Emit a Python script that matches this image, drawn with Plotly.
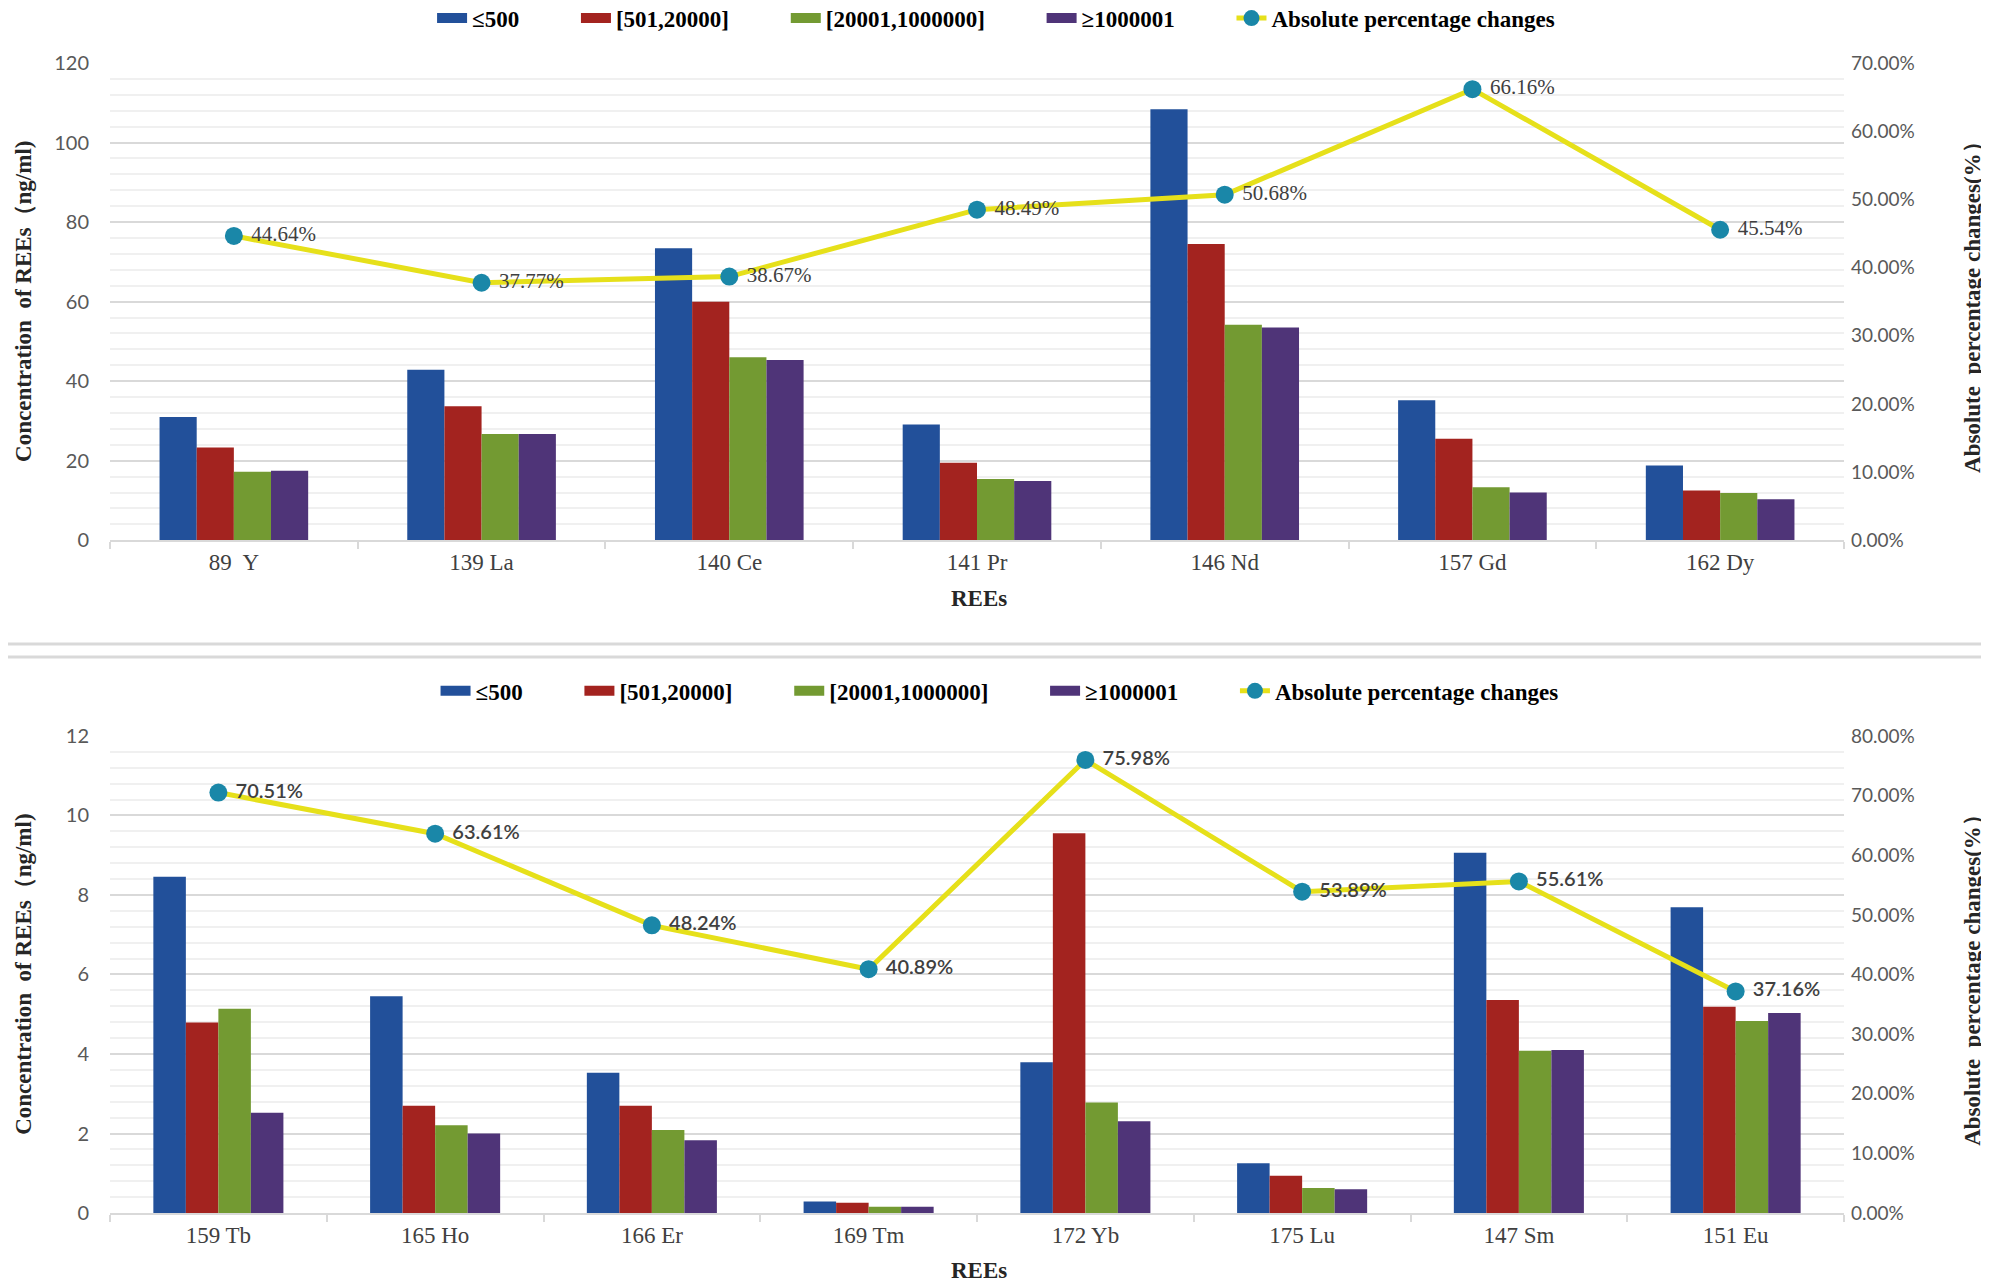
import plotly.graph_objects as go
from plotly.subplots import make_subplots

# top chart data
top_cats = ['89  Y', '139 La', '140 Ce', '141 Pr', '146 Nd', '157 Gd', '162 Dy']
top_le500 = [31.0, 42.9, 73.4, 29.1, 108.4, 35.2, 18.8]
top_501_20000 = [23.3, 33.7, 60.0, 19.5, 74.5, 25.5, 12.5]
top_20001_1000000 = [17.2, 26.7, 46.0, 15.4, 54.2, 13.3, 11.9]
top_ge1000001 = [17.5, 26.7, 45.3, 14.9, 53.5, 12.0, 10.3]
top_pct = [44.64, 37.77, 38.67, 48.49, 50.68, 66.16, 45.54]

# bottom chart data
bot_cats = ['159 Tb', '165 Ho', '166 Er', '169 Tm', '172 Yb', '175 Lu', '147 Sm', '151 Eu']
bot_le500 = [8.46, 5.45, 3.53, 0.29, 3.79, 1.25, 9.06, 7.69]
bot_501_20000 = [4.79, 2.70, 2.70, 0.26, 9.55, 0.94, 5.36, 5.19]
bot_20001_1000000 = [5.14, 2.21, 2.09, 0.16, 2.78, 0.63, 4.08, 4.83]
bot_ge1000001 = [2.52, 2.00, 1.83, 0.16, 2.31, 0.60, 4.10, 5.03]
bot_pct = [70.51, 63.61, 48.24, 40.89, 75.98, 53.89, 55.61, 37.16]

series_names = ['≤500', '[501,20000]', '[20001,1000000]', '≥1000001']
colors = ['#22509A', '#A3231F', '#739A32', '#4F3478']
line_name = 'Absolute percentage changes'

SERIF = 'Liberation Serif'
SANS = 'Lato'
PAD = '\u00a0' * 9  # extra room between legend entries

fig = make_subplots(rows=2, cols=1, specs=[[{'secondary_y': True}], [{'secondary_y': True}]])

panels = [
    (1, top_cats, [top_le500, top_501_20000, top_20001_1000000, top_ge1000001], top_pct,
     'legend', dict(family=SERIF, size=21, color='#404040')),
    (2, bot_cats, [bot_le500, bot_501_20000, bot_20001_1000000, bot_ge1000001], bot_pct,
     'legend2', dict(family=SANS, size=20, color='#404040', weight=600)),
]

for row, cats, groups, pct, leg, label_font in panels:
    for name, vals, col in zip(series_names, groups, colors):
        fig.add_trace(go.Bar(
            x=cats, y=vals, name=name, marker=dict(color=col, line=dict(width=0)),
            showlegend=False
        ), row=row, col=1, secondary_y=False)
        # legend swatch drawn as a thick short line (wide rectangle look)
        fig.add_trace(go.Scatter(
            x=[None], y=[None], mode='lines', name=name + PAD,
            line=dict(color=col, width=14), legend=leg, hoverinfo='skip'
        ), row=row, col=1, secondary_y=False)

    fig.add_trace(go.Scatter(
        x=cats, y=pct, name=line_name, mode='lines+markers+text',
        line=dict(color='#E6E01A', width=5),
        marker=dict(color='#1A87A8', size=18),
        text=[f' {p:.2f}%' for p in pct],
        textposition='middle right',
        textfont=label_font,
        legend=leg
    ), row=row, col=1, secondary_y=True)

legend_font = dict(family=SERIF, size=23, color='black', weight='bold')
# browser body margin of 8px is compensated in l/t
fig.update_layout(
    width=1989, height=1287,
    margin=dict(l=102, r=153, t=55, b=82, autoexpand=False),
    plot_bgcolor='white', paper_bgcolor='white',
    barmode='group', bargap=0.40, bargroupgap=0,
    showlegend=True,
    legend=dict(orientation='h', x=0.511, xanchor='center', y=1.039, yanchor='middle',
                font=legend_font, bgcolor='rgba(0,0,0,0)', tracegroupgap=0),
    legend2=dict(orientation='h', x=0.513, xanchor='center', y=0.454, yanchor='middle',
                 font=legend_font, bgcolor='rgba(0,0,0,0)', tracegroupgap=0),
)

# domains
fig.update_layout(
    xaxis=dict(domain=[0, 1], anchor='y'),
    yaxis=dict(domain=[0.585, 1.0]),
    yaxis2=dict(domain=[0.585, 1.0]),
    xaxis2=dict(domain=[0, 1], anchor='y3'),
    yaxis3=dict(domain=[0, 0.4148]),
    yaxis4=dict(domain=[0, 0.4148]),
)

fig.update_xaxes(
    showgrid=False, showline=True, linecolor='#D9D9D9', linewidth=2,
    ticks='outside', tickson='boundaries', ticklen=7, tickcolor='#D9D9D9', tickwidth=2,
    tickfont=dict(family=SERIF, size=23, color='#404040'), automargin=False,
)

tick_font = dict(family=SANS, size=20, color='#595959')
right_font = dict(family=SANS, size=19, color='#595959')
fig.update_yaxes(row=1, col=1, secondary_y=False, range=[0, 120], dtick=20,
                 gridcolor='#D9D9D9', gridwidth=2,
                 minor=dict(dtick=4, showgrid=True, gridcolor='#F0F0F0', gridwidth=2),
                 tickfont=tick_font, ticks='', ticklabelstandoff=20,
                 zeroline=False, automargin=False)
fig.update_yaxes(row=1, col=1, secondary_y=True, range=[0, 70], dtick=10,
                 tickformat='.2f', ticksuffix='%', showgrid=False, zeroline=False,
                 ticklabelstandoff=6, tickfont=right_font, automargin=False)
fig.update_yaxes(row=2, col=1, secondary_y=False, range=[0, 12], dtick=2,
                 gridcolor='#D9D9D9', gridwidth=2,
                 minor=dict(dtick=0.4, showgrid=True, gridcolor='#F0F0F0', gridwidth=2),
                 tickfont=tick_font, ticks='', ticklabelstandoff=20,
                 zeroline=False, automargin=False)
fig.update_yaxes(row=2, col=1, secondary_y=True, range=[0, 80], dtick=10,
                 tickformat='.2f', ticksuffix='%', showgrid=False, zeroline=False,
                 ticklabelstandoff=6, tickfont=right_font, automargin=False)

# axis titles as annotations
title_font = dict(family=SERIF, size=23, color='#262626', weight='bold')
for yc in [0.7925, 0.2074]:
    fig.add_annotation(x=-0.050, y=yc, xref='paper', yref='paper', showarrow=False,
                       xanchor='center', yanchor='middle',
                       text='Concentration  of REEs（ng/ml)', textangle=-90,
                       font=title_font)
    fig.add_annotation(x=1.074, y=yc, xref='paper', yref='paper', showarrow=False,
                       xanchor='center', yanchor='middle',
                       text='Absolute  percentage changes(%）', textangle=-90,
                       font=title_font)
for yc in [0.534, -0.050]:
    fig.add_annotation(x=0.501, y=yc, xref='paper', yref='paper', showarrow=False,
                       xanchor='center', yanchor='middle',
                       text='REEs', font=title_font)

# separator between the two chart boxes
for ys in [0.4948, 0.4835]:
    fig.add_shape(type='line', xref='paper', yref='paper',
                  x0=-0.07, x1=1.09, y0=ys, y1=ys,
                  line=dict(color='#D9D9D9', width=3))

fig.write_html('out.html')
